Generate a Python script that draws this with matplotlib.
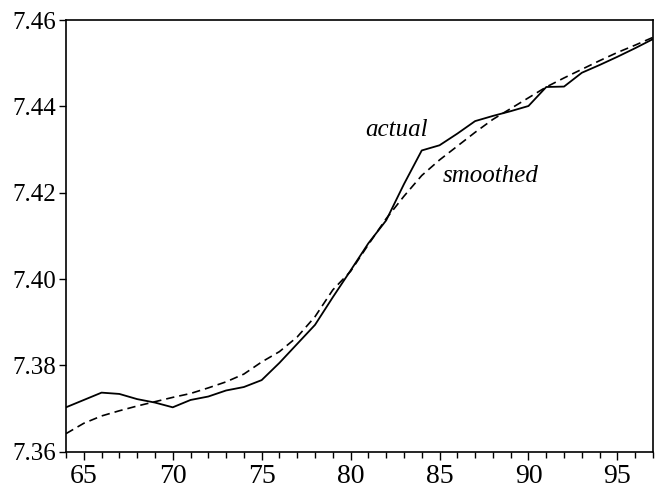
import matplotlib
matplotlib.use("Agg")
import matplotlib.pyplot as plt
from matplotlib.ticker import MultipleLocator, FormatStrFormatter

# years 1964..1997 (two-digit labels)
years = list(range(64, 98))

actual = [7.3703, 7.3720, 7.3737, 7.3734, 7.3722, 7.3714, 7.3703, 7.3720,
          7.3728, 7.3742, 7.3750, 7.3766, 7.3806, 7.3850, 7.3894, 7.3958,
          7.4020, 7.4083, 7.4136, 7.4220, 7.4298, 7.4310, 7.4337, 7.4366,
          7.4378, 7.4389, 7.4401, 7.4445, 7.4446, 7.4478, 7.4496, 7.4515,
          7.4535, 7.4556]

smoothed = [7.3642, 7.3666, 7.3683, 7.3695, 7.3706, 7.3716, 7.3726, 7.3735,
            7.3748, 7.3762, 7.3780, 7.3808, 7.3832, 7.3866, 7.3913, 7.3975,
            7.4018, 7.4080, 7.4140, 7.4192, 7.4240, 7.4276, 7.4308, 7.4340,
            7.4370, 7.4395, 7.4420, 7.4445, 7.4466, 7.4486, 7.4506, 7.4525,
            7.4542, 7.4560]

plt.rcParams['font.family'] = ['Liberation Serif', 'DejaVu Serif']

fig = plt.figure(figsize=(6.56, 4.9), dpi=100)
ax = fig.add_axes([0.1006, 0.078, 0.8948, 0.881])

ax.plot(years, actual, color='black', lw=1.3)
ax.plot(years, smoothed, color='black', lw=1.2, dashes=(5, 3))

ax.text(80.8, 7.4331, 'actual', fontsize=18, style='italic')
ax.text(85.17, 7.4225, 'smoothed', fontsize=18, style='italic')

ax.set_xlim(64, 97)
ax.set_ylim(7.36, 7.46)
ax.xaxis.set_major_locator(MultipleLocator(5))
ax.xaxis.set_minor_locator(MultipleLocator(1))
ax.yaxis.set_major_locator(MultipleLocator(0.02))
ax.yaxis.set_major_formatter(FormatStrFormatter('%.2f'))

ax.tick_params(axis='x', which='major', direction='out', length=6, width=1,
               labelsize=20, pad=3)
ax.tick_params(axis='x', which='minor', direction='out', length=4, width=1)
ax.tick_params(axis='y', which='major', direction='out', length=5, width=1,
               labelsize=18, pad=2)
for s in ax.spines.values():
    s.set_linewidth(1.2)

fig.savefig('out.png', dpi=100)
